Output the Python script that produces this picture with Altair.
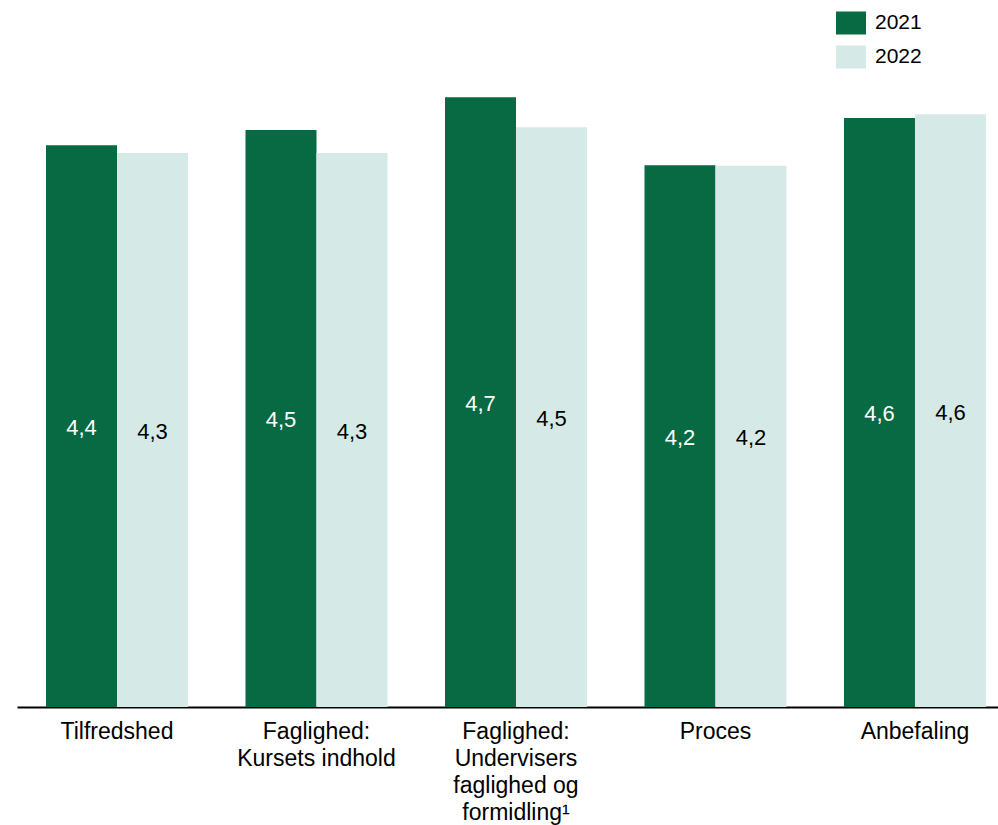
import altair as alt
import pandas as pd

categories = [
    "Tilfredshed",
    "Faglighed:\nKursets indhold",
    "Faglighed:\nUndervisers\nfaglighed og\nformidling\u00b9",
    "Proces",
    "Anbefaling",
]
years = ["2021", "2022"]
values_2021 = [4.354, 4.473, 4.726, 4.199, 4.566]
values_2022 = [4.295, 4.295, 4.494, 4.196, 4.595]
labels_2021 = ["4,4", "4,5", "4,7", "4,2", "4,6"]
labels_2022 = ["4,3", "4,3", "4,5", "4,2", "4,6"]
colors = ["#076a42", "#d5eae7"]

rows = []
for i, c in enumerate(categories):
    rows.append({"cat": c, "year": "2021", "value": values_2021[i], "label": labels_2021[i]})
    rows.append({"cat": c, "year": "2022", "value": values_2022[i], "label": labels_2022[i]})
df = pd.DataFrame(rows)

FONT = "Liberation Sans"

x_enc = alt.X(
    "cat:N",
    sort=categories,
    title=None,
    scale=alt.Scale(paddingInner=0.2882, paddingOuter=0.1028, align=0.707),
    axis=alt.Axis(
        labelExpr="split(datum.value, '\\n')",
        labelAngle=0,
        labelFontSize=23,
        labelLineHeight=27,
        labelFont=FONT,
        labelColor="black",
        labelPadding=13,
        labelBaseline="top",
        ticks=False,
        domainColor="black",
        domainWidth=2,
        grid=False,
    ),
)
xoff = alt.XOffset("year:N", sort=years, scale=alt.Scale(paddingInner=0, paddingOuter=0))
y_scale = alt.Scale(domain=[0, 5], nice=False, zero=True)

bars = alt.Chart(df).mark_bar().encode(
    x=x_enc,
    xOffset=xoff,
    y=alt.Y("value:Q", scale=y_scale, axis=None),
    color=alt.Color(
        "year:N",
        sort=years,
        scale=alt.Scale(domain=years, range=colors),
        legend=alt.Legend(
            title=None,
            orient="none",
            legendX=819,
            legendY=-54,
            symbolType="M-1,-0.767L1,-0.767L1,0.767L-1,0.767Z",
            symbolSize=900,
            symbolStrokeWidth=0,
            symbolOpacity=1,
            labelFontSize=21,
            labelFont=FONT,
            labelColor="black",
            labelOffset=9,
            rowPadding=7,
            padding=0,
        ),
    ),
)

text = alt.Chart(df).transform_calculate(half="datum.value / 2").mark_text(
    fontSize=22, font=FONT, baseline="middle", align="center", dy=2
).encode(
    x=alt.X("cat:N", sort=categories),
    xOffset=xoff,
    y=alt.Y("half:Q", scale=y_scale),
    text="label:N",
    color=alt.condition(alt.datum.year == "2021", alt.value("white"), alt.value("black")),
)

chart = alt.layer(bars, text).properties(
    width=981,
    height=645,
    background="white",
    autosize=alt.AutoSizeParams(type="none"),
    padding={"left": 17, "top": 62, "right": 0, "bottom": 118},
).configure_view(strokeWidth=0, stroke=None)

chart.save("out.html", embed_options={"renderer": "svg", "actions": False})
